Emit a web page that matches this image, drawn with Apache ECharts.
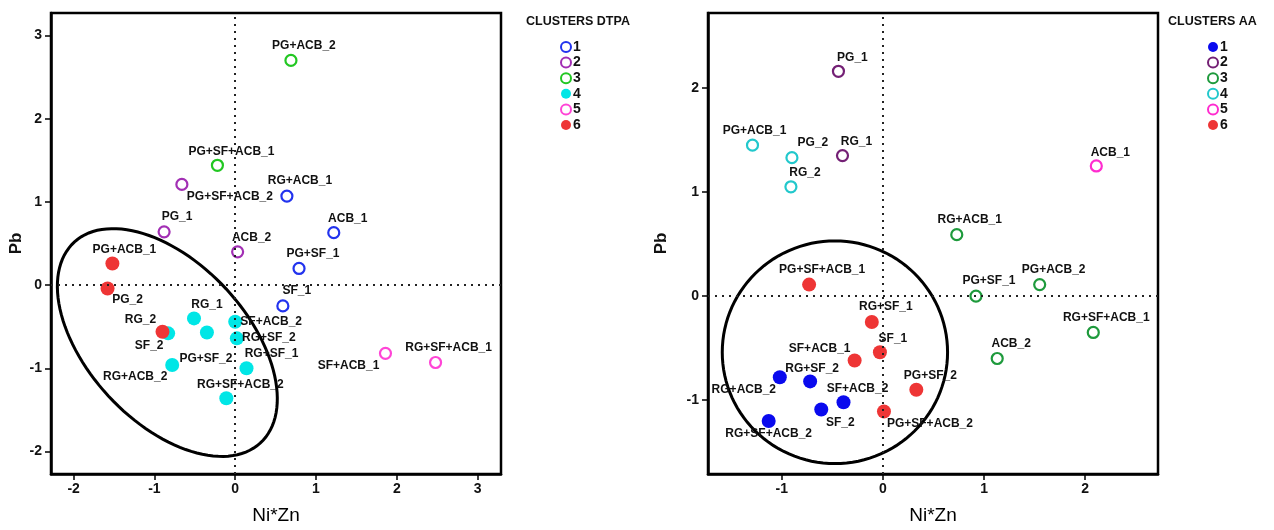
<!DOCTYPE html>
<html>
<head>
<meta charset="utf-8">
<script src="https://cdn.jsdelivr.net/npm/echarts@6/dist/echarts.min.js"></script>
<style>
html,body{margin:0;padding:0;background:#fff;}
#chart{width:1274px;height:530px;}
</style>
</head>
<body>
<div id="chart"></div>
<script>
// ---------- DATA ----------
const clusterIds = [1, 2, 3, 4, 5, 6];

// Left chart: CLUSTERS DTPA
const leftNames = ['PG+ACB_2','PG+SF+ACB_1','PG+SF+ACB_2','RG+ACB_1','PG_1','ACB_1','ACB_2','PG+SF_1','PG+ACB_1','PG_2','SF_1','RG_1','PG+SF_2','SF+ACB_2','RG+SF_2','RG_2','SF_2','RG+ACB_2','RG+SF_1','RG+SF+ACB_2','SF+ACB_1','RG+SF+ACB_1'];
const leftX = [0.69,-0.22,-0.66,0.64,-0.88,1.22,0.03,0.79,-1.52,-1.58,0.59,-0.51,-0.35,0.00,0.02,-0.90,-0.83,-0.78,0.14,-0.11,1.86,2.48];
const leftY = [2.70,1.44,1.21,1.07,0.64,0.63,0.40,0.20,0.26,-0.04,-0.25,-0.40,-0.57,-0.44,-0.64,-0.56,-0.58,-0.96,-1.00,-1.36,-0.82,-0.93];
const leftCluster = [3,3,2,1,2,1,2,1,6,6,1,4,4,4,4,6,4,4,4,4,5,5];

// Right chart: CLUSTERS AA
const rightNames = ['PG_1','PG+ACB_1','PG_2','RG_1','RG_2','ACB_1','RG+ACB_1','PG+SF+ACB_1','PG+SF_1','PG+ACB_2','RG+SF+ACB_1','ACB_2','RG+SF_1','SF_1','SF+ACB_1','RG+SF_2','RG+ACB_2','SF+ACB_2','SF_2','RG+SF+ACB_2','PG+SF_2','PG+SF+ACB_2'];
const rightX = [-0.44,-1.29,-0.90,-0.40,-0.91,2.11,0.73,-0.73,0.92,1.55,2.08,1.13,-0.11,-0.03,-0.28,-0.72,-1.02,-0.39,-0.61,-1.13,0.33,0.01];
const rightY = [2.16,1.45,1.33,1.35,1.05,1.25,0.59,0.11,0.00,0.11,-0.35,-0.60,-0.25,-0.54,-0.62,-0.82,-0.78,-1.02,-1.09,-1.20,-0.90,-1.11];
const rightCluster = [2,4,4,2,4,5,3,6,3,3,3,3,6,6,6,1,1,1,1,1,6,6];

// Tick labels
const leftXTicks = [-2,-1,0,1,2,3];
const leftYTicks = [-2,-1,0,1,2,3];
const rightXTicks = [-1,0,1,2];
const rightYTicks = [-1,0,1,2];

// Confidence ellipses (centre, conjugate semi-axis vectors, in data units)
const leftEllipseCenter = [-0.84,-0.69];
const leftEllipseU = [1.149,-1.209];
const leftEllipseV = [-0.730,-0.642];
const rightEllipseCenter = [-0.475,-0.54];
const rightEllipseU = [1.114,0];
const rightEllipseV = [0,1.07];

// ---------- STYLE / LAYOUT ----------
const leftLabelOffset = [[13,-15],[14,-14],[48,12],[13,-15],[13,-15],[14,-14],[14,-14],[14,-15],[12,-14],[20,11],[14,-15],[13,-14],[-1,26],[36,0],[32,-1],[-22,-12],[-19,12],[-37,12],[25,-15],[14,-14],[-37,12],[13,-15]];
const rightLabelOffset = [[14,-14],[2,-14],[21,-15],[14,-14],[14,-14],[14,-13],[13,-15],[13,-15],[13,-15],[14,-15],[13,-15],[14,-15],[14,-15],[13,-14],[-35,-12],[2,-13],[-36,12],[14,-14],[19,13],[0,13],[14,-14],[46,12]];

const leftStyle = {
  1:{color:'#2233ee',filled:false},
  2:{color:'#a22fb4',filled:false},
  3:{color:'#22c722',filled:false},
  4:{color:'#00e6e6',filled:true},
  5:{color:'#ff45d6',filled:false},
  6:{color:'#ee3535',filled:true}
};
const rightStyle = {
  1:{color:'#0a0aee',filled:true},
  2:{color:'#742075',filled:false},
  3:{color:'#1e9a3c',filled:false},
  4:{color:'#22c8cc',filled:false},
  5:{color:'#ff2ccf',filled:false},
  6:{color:'#ee3535',filled:true}
};

const FONT = '"Liberation Sans", Arial, sans-serif';

function buildScatter(prefix, names, xs, ys, clusters, offsets, styles, idx){
  return clusterIds.map(c => {
    const st = styles[c];
    const data = [];
    names.forEach((n,i) => {
      if (clusters[i] === c) {
        data.push({
          value:[xs[i], ys[i]],
          name:n,
          label:{offset:offsets[i]}
        });
      }
    });
    return {
      type:'scatter',
      name: prefix + ' ' + c,
      xAxisIndex: idx, yAxisIndex: idx,
      symbol:'circle',
      symbolSize: st.filled ? 14 : 11,
      itemStyle: st.filled ? {color:st.color, opacity:1} : {color:'#ffffff', borderColor:st.color, borderWidth:2.2, opacity:1},
      label:{show:true, position:'inside', formatter:p=>p.name, color:'#111', fontFamily:FONT, fontWeight:'bold', fontSize:12},
      emphasis:{disabled:true},
      z:3,
      data
    };
  });
}

function ellipseSeries(idx, center, u, v){
  return {
    type:'custom',
    xAxisIndex: idx, yAxisIndex: idx,
    silent:true,
    z:2,
    data:[center],
    renderItem:function(params, api){
      const pts = [];
      const n = 120;
      for (let k=0;k<n;k++){
        const t = 2*Math.PI*k/n;
        pts.push(api.coord([center[0]+u[0]*Math.cos(t)+v[0]*Math.sin(t), center[1]+u[1]*Math.cos(t)+v[1]*Math.sin(t)]));
      }
      return {type:'polygon', shape:{points:pts}, style:{fill:'none', stroke:'#000', lineWidth:3}};
    }
  };
}

function refLines(idx){
  return {
    type:'line', xAxisIndex:idx, yAxisIndex:idx, data:[], silent:true,
    markLine:{
      silent:true, symbol:'none', label:{show:false},
      lineStyle:{color:'#222', type:[2,5], width:2},
      data:[{xAxis:0},{yAxis:0}]
    }
  };
}

function xAxis(idx, min, max, ticks){
  return {
    type:'value', gridIndex:idx, min, max,
    name:'Ni*Zn', nameLocation:'middle', nameGap:32,
    nameTextStyle:{fontFamily:FONT, fontSize:19, color:'#000'},
    axisLine:{show:true, onZero:false, lineStyle:{color:'#000', width:2.5}},
    axisTick:{show:true, length:6, customValues:ticks, lineStyle:{color:'#000', width:1.5}},
    axisLabel:{customValues:ticks, margin:8, fontFamily:FONT, fontWeight:'bold', fontSize:14, color:'#111'},
    splitLine:{show:false}
  };
}
function yAxis(idx, min, max, ticks, gap){
  return {
    type:'value', gridIndex:idx, min, max,
    name:'Pb', nameLocation:'middle', nameGap:gap, nameRotate:90,
    nameTextStyle:{fontFamily:FONT, fontSize:17, fontWeight:'bold', color:'#111'},
    axisLine:{show:true, onZero:false, lineStyle:{color:'#000', width:2.5}},
    axisTick:{show:true, length:6, customValues:ticks, lineStyle:{color:'#000', width:1.5}},
    axisLabel:{customValues:ticks, margin:9, fontFamily:FONT, fontWeight:'bold', fontSize:14, color:'#111'},
    splitLine:{show:false}
  };
}

function legend(prefix, left){
  return {
    orient:'vertical', left:left, top:35, itemWidth:10, itemHeight:10, itemGap:1.6,
    icon:'circle',
    data: clusterIds.map(c => prefix + ' ' + c),
    formatter: name => name.split(' ')[1],
    textStyle:{fontFamily:FONT, fontWeight:'bold', fontSize:14, color:'#111', padding:[0,0,0,-3]},
    selectedMode:false
  };
}

const chart = echarts.init(document.getElementById('chart'), null, {renderer:'canvas'});
chart.setOption({
  backgroundColor:'#fff',
  animation:false,
  title:[
    {text:'CLUSTERS DTPA', left:521, top:10, textStyle:{fontFamily:FONT, fontWeight:'bold', fontSize:12.5, color:'#111'}},
    {text:'CLUSTERS AA', left:1163, top:10, textStyle:{fontFamily:FONT, fontWeight:'bold', fontSize:12.5, color:'#111'}}
  ],
  legend:[legend('DTPA', 555), legend('AA', 1202)],
  grid:[
    {left:51, top:13, width:450, height:466, show:true, borderColor:'#000', borderWidth:2.5, backgroundColor:'#fff'},
    {left:708, top:13, width:450, height:466, show:true, borderColor:'#000', borderWidth:2.5, backgroundColor:'#fff'}
  ],
  xAxis:[xAxis(0,-2.28,3.29,leftXTicks), xAxis(1,-1.73,2.72,rightXTicks)],
  yAxis:[yAxis(0,-2.27,3.27,leftYTicks,26), yAxis(1,-1.71,2.72,rightYTicks,38)],
  series:[
    refLines(0), refLines(1),
    ellipseSeries(0, leftEllipseCenter, leftEllipseU, leftEllipseV),
    ellipseSeries(1, rightEllipseCenter, rightEllipseU, rightEllipseV),
    ...buildScatter('DTPA', leftNames, leftX, leftY, leftCluster, leftLabelOffset, leftStyle, 0),
    ...buildScatter('AA', rightNames, rightX, rightY, rightCluster, rightLabelOffset, rightStyle, 1)
  ]
});
</script>
</body>
</html>
